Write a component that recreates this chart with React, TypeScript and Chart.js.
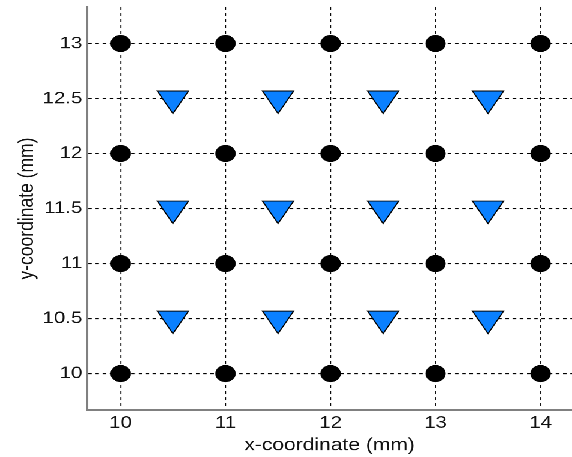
import React, { useEffect, useRef } from "react";
import { Chart, registerables } from "chart.js";

Chart.register(...registerables);

// Data
const circleXs = [10, 11, 12, 13, 14];
const circleYs = [10, 11, 12, 13];
const triangleXs = [10.5, 11.5, 12.5, 13.5];
const triangleYs = [10.5, 11.5, 12.5];
const xTicks = [10, 11, 12, 13, 14];
const yTicks = [10, 10.5, 11, 11.5, 12, 12.5, 13];
const xTitle = "x-coordinate (mm)";
const yTitle = "y-coordinate (mm)";

const W = 477;
const H = 457;
const STRETCH = 572 / W;
const DPR = 1144.2 / W;

export default function App() {
  const ref = useRef<HTMLCanvasElement | null>(null);

  useEffect(() => {
    if (!ref.current) return;
    const circles = circleYs.flatMap((y) => circleXs.map((x) => ({ x, y })));
    const triangles = triangleYs.flatMap((y) => triangleXs.map((x) => ({ x, y })));
    const font = "'Liberation Sans', Arial, sans-serif";
    const zeroPad = (s: any) => {
      s.paddingLeft = 0;
      s.paddingRight = 0;
      s.paddingTop = 0;
      s.paddingBottom = 0;
    };
    const chart = new Chart(ref.current, {
      type: "scatter",
      data: {
        datasets: [
          {
            data: circles,
            pointStyle: "circle",
            pointRadius: 8,
            pointBackgroundColor: "#000",
            pointBorderColor: "#000",
            pointBorderWidth: 1,
          },
          {
            data: triangles,
            pointStyle: "triangle",
            rotation: 180,
            pointRadius: 15,
            pointBackgroundColor: "#0a80ff",
            pointBorderColor: "#000",
            pointBorderWidth: 1,
          },
        ],
      },
      options: {
        responsive: false,
        animation: false,
        devicePixelRatio: DPR,
        layout: { autoPadding: false, padding: { top: 7, right: 0, left: 0, bottom: 0 } },
        plugins: { legend: { display: false }, tooltip: { enabled: false } },
        scales: {
          x: {
            type: "linear",
            min: 9.68037,
            max: 14.29997,
            afterBuildTicks: (s: any) => {
              s.ticks = xTicks.map((v) => ({ value: v }));
            },
            afterFit: (s: any) => {
              s.height = 47;
              zeroPad(s);
            },
            grid: {
              color: "#000",
              lineWidth: 2 / DPR,
              drawTicks: false,
            },
            border: { color: "#808080", width: 1.7, dash: [3, 3] },
            ticks: {
              color: "#111",
              font: { family: font, size: 17 },
              padding: 3,
              maxRotation: 0,
              callback: (v: any) => String(v),
            },
            title: {
              display: true,
              text: xTitle,
              color: "#111",
              font: { family: font, size: 17.5 },
              padding: { top: 0, bottom: 1 },
            },
          },
          y: {
            type: "linear",
            min: 9.6682,
            max: 13.3318,
            afterBuildTicks: (s: any) => {
              s.ticks = yTicks.map((v) => ({ value: v }));
            },
            afterFit: (s: any) => {
              s.width = 72.5;
              zeroPad(s);
            },
            grid: {
              color: "#000",
              lineWidth: 1,
              drawTicks: false,
            },
            border: { color: "#808080", width: 1.7, dash: [3, 3] },
            ticks: {
              color: "#111",
              font: { family: font, size: 17 },
              padding: 4,
              callback: (v: any) => String(v),
            },
            title: {
              display: true,
              text: yTitle,
              color: "#111",
              font: { family: font, size: 17.5 },
              padding: { top: 12, bottom: 0 },
            },
          },
        },
      },
    } as any);
    return () => chart.destroy();
  }, []);

  return (
    <div
      style={{
        position: "absolute",
        left: 0,
        top: 0,
        width: W,
        height: H,
        transform: `scaleX(${STRETCH})`,
        transformOrigin: "0 0",
        background: "#fff",
      }}
    >
      <canvas ref={ref} width={W} height={H} />
    </div>
  );
}
